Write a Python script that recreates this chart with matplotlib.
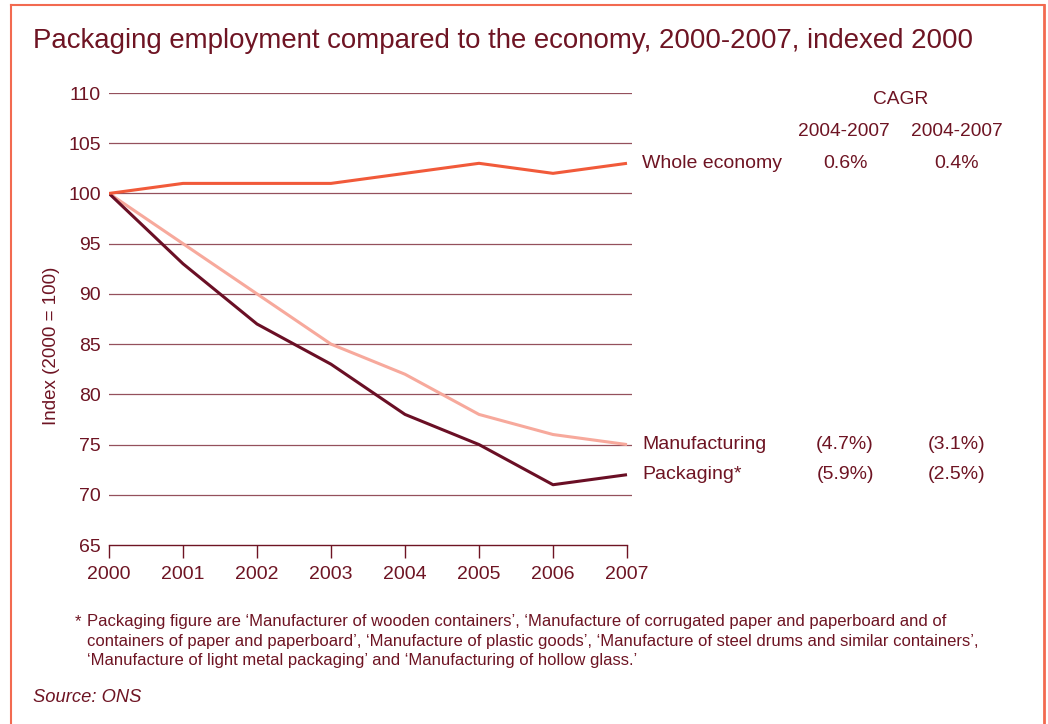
import matplotlib
matplotlib.use("Agg")
import matplotlib.pyplot as plt
from matplotlib.lines import Line2D

years = [2000, 2001, 2002, 2003, 2004, 2005, 2006, 2007]
whole_economy = [100, 101, 101, 101, 102, 103, 102, 103]
manufacturing = [100, 95, 90, 85, 82, 78, 76, 75]
packaging = [100, 93, 87, 83, 78, 75, 71, 72]
yticks = [65, 70, 75, 80, 85, 90, 95, 100, 105, 110]
series_names = ["Whole economy", "Manufacturing", "Packaging*"]
cagr_col1 = ["0.6%", "(4.7%)", "(5.9%)"]
cagr_col2 = ["0.4%", "(3.1%)", "(2.5%)"]
col_headers = ["2004-2007", "2004-2007"]

TXT = "#6e1423"
GRID = "#94505c"
C_WHOLE = "#f15a3a"
C_MANU = "#f7a99c"
C_PACK = "#6a0f25"
BORDER = "#f26a50"

plt.rcParams["font.family"] = ["Liberation Sans", "DejaVu Sans"]

W, H = 1048, 724
fig = plt.figure(figsize=(W / 100, H / 100), dpi=100)

def fx(px):
    return px / W

def fy(py):
    return 1 - py / H

ax = fig.add_axes([fx(109), fy(545), fx(632) - fx(109), fy(93) - fy(545)])
x_right = 2007 + 5 / 74
ax.set_xlim(2000, x_right)
ax.set_ylim(65, 110)

for yv in yticks[1:]:
    ax.axhline(yv, color=GRID, lw=0.9, zorder=1)

ax.plot(years, manufacturing, color=C_MANU, lw=2.2, zorder=3, solid_capstyle="butt")
ax.plot(years, packaging, color=C_PACK, lw=2.2, zorder=4, solid_capstyle="butt")
ax.plot(years, whole_economy, color=C_WHOLE, lw=2.2, zorder=5, solid_capstyle="butt")

for s in ["top", "right", "left"]:
    ax.spines[s].set_visible(False)
ax.spines["bottom"].set_color(TXT)
ax.spines["bottom"].set_linewidth(1.0)
ax.spines["bottom"].set_bounds(2000, 2007)

ax.set_xticks(years)
ax.set_xticklabels([str(y) for y in years], fontsize=14, color=TXT)
ax.tick_params(axis="x", direction="out", length=9, width=1.0, color=TXT, pad=6)
ax.set_yticks(yticks)
ax.set_yticklabels([str(v) for v in yticks], fontsize=14, color=TXT)
ax.tick_params(axis="y", length=0, pad=6)

fig.text(fx(52), fy(346), "Index (2000 = 100)", rotation=90, ha="center", va="center",
         fontsize=13.5, color=TXT)

# series labels and CAGR table
lasts = [whole_economy[-1], manufacturing[-1], packaging[-1]]
for name, last, c1, c2 in zip(series_names, lasts, cagr_col1, cagr_col2):
    ax.annotate(name, xy=(2007, last), xytext=(11, 0), textcoords="offset points",
                ha="left", va="center", fontsize=14, color=TXT, annotation_clip=False)
    ax.annotate(c1, xy=(2007, last), xytext=((845 - 627) * 0.72, 0), textcoords="offset points",
                ha="center", va="center", fontsize=14, color=TXT, annotation_clip=False)
    ax.annotate(c2, xy=(2007, last), xytext=((957 - 627) * 0.72, 0), textcoords="offset points",
                ha="center", va="center", fontsize=14, color=TXT, annotation_clip=False)

fig.text(fx(901), fy(99), "CAGR", ha="center", va="center", fontsize=13.8, color=TXT)
fig.text(fx(844), fy(132), col_headers[0], ha="center", va="center", fontsize=13.8, color=TXT)
fig.text(fx(957), fy(132), col_headers[1], ha="center", va="center", fontsize=13.8, color=TXT)

fig.text(fx(33), fy(41), "Packaging employment compared to the economy, 2000-2007, indexed 2000",
         ha="left", va="center", fontsize=19.9, color=TXT)

foot = ("Packaging figure are \u2018Manufacturer of wooden containers\u2019, \u2018Manufacture of corrugated paper and paperboard and of\n"
        "containers of paper and paperboard\u2019, \u2018Manufacture of plastic goods\u2019, \u2018Manufacture of steel drums and similar containers\u2019,\n"
        "\u2018Manufacture of light metal packaging\u2019 and \u2018Manufacturing of hollow glass.\u2019")
fig.text(fx(75), fy(614), "*", ha="left", va="top", fontsize=12.0, color=TXT)
fig.text(fx(87), fy(614), foot, ha="left", va="top", fontsize=12.0, color=TXT, linespacing=1.38)
fig.text(fx(33), fy(698), "Source: ONS", ha="left", va="center", fontsize=13.2, color=TXT, style="italic")

# border
fig.add_artist(Line2D([fx(11), fx(1044)], [fy(5), fy(5)], color=BORDER, lw=1.5, transform=fig.transFigure))
fig.add_artist(Line2D([fx(11), fx(11)], [fy(5), 0], color=BORDER, lw=1.5, transform=fig.transFigure))
fig.add_artist(Line2D([fx(1044), fx(1044)], [fy(5), 0], color=BORDER, lw=2.0, transform=fig.transFigure))

fig.savefig("out.png", dpi=100)
